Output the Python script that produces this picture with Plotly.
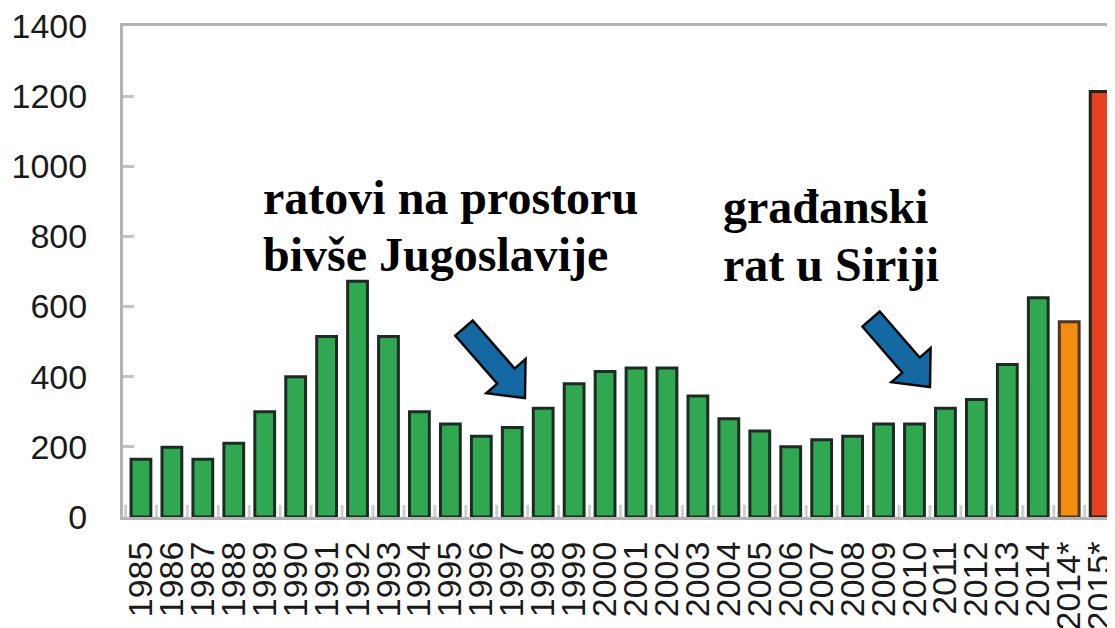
import math
import plotly.graph_objects as go

# data
years = ["1985", "1986", "1987", "1988", "1989", "1990", "1991", "1992", "1993",
         "1994", "1995", "1996", "1997", "1998", "1999", "2000", "2001", "2002",
         "2003", "2004", "2005", "2006", "2007", "2008", "2009", "2010", "2011",
         "2012", "2013", "2014", "2014*", "2015*"]
applications = [165, 199, 165, 210, 300, 400, 515, 672, 515,
                300, 265, 230, 255, 310, 380, 415, 425, 425,
                345, 280, 245, 200, 220, 230, 265, 265, 310,
                335, 435, 625, 557, 1213]
bar_colors = ["#2fa851"] * 30 + ["#f38d12", "#e5431f"]
line_colors = ["#1d2b24"] * 30 + ["#4f3420", "#222222"]

y_ticks = [0, 200, 400, 600, 800, 1000, 1200, 1400]

W, H = 1115, 628
# the page body adds an 8px offset, so margins are shifted to compensate
L, R, T, B = 115, 8, 18, 119
# plot area as seen on the screen
SX0, SX1, SY0, SY1 = 123, 1115, 26, 517

fig = go.Figure(go.Bar(
    x=list(range(len(years))),
    y=applications,
    width=0.64,
    marker=dict(color=bar_colors, line=dict(color=line_colors, width=3)),
))


def px_to_paper(x, y):
    return (x - SX0) / (SX1 - SX0), (SY1 - y) / (SY1 - SY0)


def block_arrow(tail, tip, shaft=23, head_w=52, head_len=29):
    dx, dy = tip[0] - tail[0], tip[1] - tail[1]
    n = math.hypot(dx, dy)
    dx, dy = dx / n, dy / n
    nx, ny = -dy, dx
    bx, by = tip[0] - dx * head_len, tip[1] - dy * head_len
    pts = [
        (tail[0] + nx * shaft / 2, tail[1] + ny * shaft / 2),
        (bx + nx * shaft / 2, by + ny * shaft / 2),
        (bx + nx * head_w / 2, by + ny * head_w / 2),
        tip,
        (bx - nx * head_w / 2, by - ny * head_w / 2),
        (bx - nx * shaft / 2, by - ny * shaft / 2),
        (tail[0] - nx * shaft / 2, tail[1] - ny * shaft / 2),
    ]
    pp = [px_to_paper(*p) for p in pts]
    path = "M " + " L ".join(f"{a:.4f},{b:.4f}" for a, b in pp) + " Z"
    return dict(type="path", xref="paper", yref="paper", path=path,
                fillcolor="#1469a3", line=dict(color="#0a0a0a", width=2.5))


fig.add_shape(block_arrow((464, 328), (525, 398)))
fig.add_shape(block_arrow((871, 319), (930, 387)))

serif = dict(family="Liberation Serif, Times New Roman, serif", size=48, color="#000000")
for txt, xp, yp in [("<b>ratovi na prostoru</b>", 261, 197),
                    ("<b>bivše Jugoslavije</b>", 261, 254),
                    ("<b>građanski</b>", 721, 206),
                    ("<b>rat u Siriji</b>", 721, 264)]:
    ax, ay = px_to_paper(xp, yp)
    fig.add_annotation(text=txt, x=ax, y=ay, xref="paper", yref="paper",
                       xanchor="left", yanchor="middle", showarrow=False, font=serif)

fig.update_layout(
    width=W, height=H,
    margin=dict(l=L, r=R, t=T, b=B, autoexpand=False),
    plot_bgcolor="white", paper_bgcolor="white",
    showlegend=False,
    font=dict(family="Liberation Sans, Arial, sans-serif", color="#1a1a1a"),
)
fig.update_xaxes(
    range=[-0.58, 31.48], automargin=False,
    tickmode="array", tickvals=list(range(len(years))), ticktext=years,
    tickangle=-90, tickfont=dict(size=34),
    showline=True, linecolor="#b3b3b3", linewidth=3, mirror=True,
    showgrid=False, zeroline=False,
    ticks="", ticklabelstandoff=8, ticklabeloverflow="allow",
)
fig.update_yaxes(
    range=[0, 1400], tickvals=y_ticks, automargin=False,
    tickfont=dict(size=34, color="#1a1a1a"),
    showline=True, linecolor="#b3b3b3", linewidth=3,
    showgrid=False, zeroline=False,
    ticks="inside", ticklen=11, tickwidth=3, tickcolor="#c4c4c4",
    ticklabelstandoff=26, ticklabeloverflow="allow",
)

# small gray boundary ticks between bars along the base
for i in range(len(years) + 1):
    fig.add_shape(type="line", xref="x", yref="paper",
                  x0=i - 0.5, x1=i - 0.5, y0=0, y1=12 / (SY1 - SY0),
                  line=dict(color="#cfcfcf", width=3), layer="below")

fig.write_html("out.html")
